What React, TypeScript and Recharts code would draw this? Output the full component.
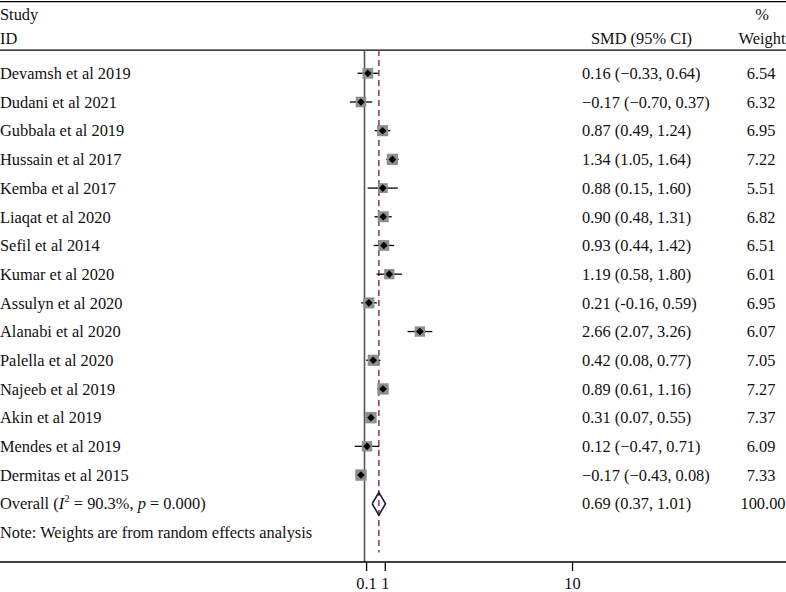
import React from 'react';
import { ScatterChart, Scatter, XAxis, YAxis, ErrorBar, ReferenceLine } from 'recharts';

const studies = [
  'Devamsh et al 2019', 'Dudani et al 2021', 'Gubbala et al 2019', 'Hussain et al 2017',
  'Kemba et al 2017', 'Liaqat et al 2020', 'Sefil et al 2014', 'Kumar et al 2020',
  'Assulyn et al 2020', 'Alanabi et al 2020', 'Palella et al 2020', 'Najeeb et al 2019',
  'Akin et al 2019', 'Mendes et al 2019', 'Dermitas et al 2015',
];
const smd = [0.16, -0.17, 0.87, 1.34, 0.88, 0.9, 0.93, 1.19, 0.21, 2.66, 0.42, 0.89, 0.31, 0.12, -0.17];
const ciLow = [-0.33, -0.7, 0.49, 1.05, 0.15, 0.48, 0.44, 0.58, -0.16, 2.07, 0.08, 0.61, 0.07, -0.47, -0.43];
const ciHigh = [0.64, 0.37, 1.24, 1.64, 1.6, 1.31, 1.42, 1.8, 0.59, 3.26, 0.77, 1.16, 0.55, 0.71, 0.08];
const weights = [6.54, 6.32, 6.95, 7.22, 5.51, 6.82, 6.51, 6.01, 6.95, 6.07, 7.05, 7.27, 7.37, 6.09, 7.33];
// the source table prints these with mixed minus signs
const ciText = [
  '0.16 (\u22120.33, 0.64)', '\u22120.17 (\u22120.70, 0.37)', '0.87 (0.49, 1.24)', '1.34 (1.05, 1.64)',
  '0.88 (0.15, 1.60)', '0.90 (0.48, 1.31)', '0.93 (0.44, 1.42)', '1.19 (0.58, 1.80)',
  '0.21 (-0.16, 0.59)', '2.66 (2.07, 3.26)', '0.42 (0.08, 0.77)', '0.89 (0.61, 1.16)',
  '0.31 (0.07, 0.55)', '0.12 (\u22120.47, 0.71)', '\u22120.17 (\u22120.43, 0.08)',
];
const overall = { est: 0.69, lo: 0.37, hi: 1.01, text: '0.69 (0.37, 1.01)', weight: '100.00' };
const xTicks = [0.1, 1, 10];

const overallRow = studies.length;
const noteRow = overallRow + 1;
const headRow1 = -2.07;
const headRow2 = -1.23;

const studyData = studies.map((name, i) => ({
  name,
  row: i,
  x: smd[i],
  err: [smd[i] - ciLow[i], ciHigh[i] - smd[i]],
  w: weights[i],
}));

const diamondData = [
  { x: overall.lo, row: overallRow },
  { x: overall.est, row: overallRow - 0.4 },
  { x: overall.hi, row: overallRow },
  { x: overall.est, row: overallRow + 0.4 },
  { x: overall.lo, row: overallRow },
];

const rowTicks = [headRow1, headRow2, ...studies.map((_, i) => i), overallRow, noteRow];

const FONT = '"Liberation Serif", "DejaVu Serif", serif';
const txt = { fontFamily: FONT, fontSize: 16.4, fill: '#111' };

const RowTick = (props: any) => {
  const { y, payload } = props;
  const v = payload.value;
  if (v === headRow1) {
    return (
      <g>
        <text x={0} y={y} dy="0.35em" textAnchor="start" {...txt}>Study</text>
        <text x={762} y={y} dy="0.35em" textAnchor="middle" {...txt}>%</text>
      </g>
    );
  }
  if (v === headRow2) {
    return (
      <g>
        <text x={0} y={y} dy="0.35em" textAnchor="start" {...txt}>ID</text>
        <text x={591} y={y} dy="0.35em" textAnchor="start" {...txt}>SMD (95% CI)</text>
        <text x={762} y={y} dy="0.35em" textAnchor="middle" {...txt}>Weight</text>
      </g>
    );
  }
  if (v === noteRow) {
    return (
      <text x={0} y={y} dy="0.35em" textAnchor="start" {...txt}>Note: Weights are from random effects analysis</text>
    );
  }
  if (v === overallRow) {
    return (
      <g>
        <text x={0} y={y + 5.7} textAnchor="start" {...txt}>
          Overall (<tspan fontStyle="italic">I</tspan>
          <tspan fontSize={11} dy={-7}>2</tspan>
          <tspan dy={7}> = 90.3%, </tspan>
          <tspan fontStyle="italic">p</tspan> = 0.000)
        </text>
        <text x={582} y={y} dy="0.35em" textAnchor="start" {...txt}>{overall.text}</text>
        <text x={763} y={y} dy="0.35em" textAnchor="middle" {...txt}>{overall.weight}</text>
      </g>
    );
  }
  return (
    <g>
      <text x={0} y={y} dy="0.35em" textAnchor="start" {...txt}>{studies[v]}</text>
      <text x={582} y={y} dy="0.35em" textAnchor="start" {...txt}>{ciText[v]}</text>
      <text x={761} y={y} dy="0.35em" textAnchor="middle" {...txt}>{weights[v].toFixed(2)}</text>
    </g>
  );
};

const XTick = (props: any) => {
  const { x, y, payload } = props;
  return (
    <text x={x} y={y} dy={13} textAnchor="middle" {...txt}>{payload.value}</text>
  );
};

const WeightBox = (props: any) => {
  const { cx, cy, payload } = props;
  const s = 4.2 * Math.sqrt(payload.w);
  return <rect x={cx - s / 2} y={cy - s / 2} width={s} height={s} fill="#8e8e8e" />;
};

const Dot = (props: any) => {
  const { cx, cy } = props;
  const r = 3.8;
  return <path d={`M${cx - r},${cy} L${cx},${cy - r} L${cx + r},${cy} L${cx},${cy + r} Z`} fill="#000" />;
};

const App: React.FC = () => {
  return (
    <div style={{ position: 'absolute', left: 0, top: 0, background: '#fff' }}>
      <ScatterChart
        width={786}
        height={592}
        margin={{ top: 0, right: 0, bottom: 0, left: -1 }}
        style={{ fontFamily: FONT }}
      >
        <XAxis
          type="number"
          dataKey="x"
          domain={[-17.52, 20.26]}
          allowDataOverflow
          ticks={xTicks}
          interval={0}
          height={30}
          axisLine={{ stroke: '#000', strokeWidth: 1.3 }}
          tickLine={{ stroke: '#000', strokeWidth: 1.3 }}
          tickSize={9}
          tickMargin={5}
          tick={<XTick />}
        />
        <YAxis
          type="number"
          dataKey="row"
          domain={[-2.554, 17.03]}
          allowDataOverflow
          reversed
          width={1}
          ticks={rowTicks}
          interval={0}
          axisLine={false}
          tickLine={false}
          tick={<RowTick />}
        />
        <ReferenceLine y={-2.5} stroke="#000" strokeWidth={1.3} />
        <ReferenceLine y={-0.81} stroke="#000" strokeWidth={1.3} />
        <ReferenceLine
          segment={[{ x: 0, y: -0.81 }, { x: 0, y: 17.03 }]}
          stroke="#555"
          strokeWidth={1.6}
        />
        <ReferenceLine
          segment={[{ x: overall.est, y: -0.81 }, { x: overall.est, y: 16.7 }]}
          stroke="#8a4a55"
          strokeWidth={1.6}
          strokeDasharray="6 4"
        />
        <Scatter data={studyData} shape={<WeightBox />} isAnimationActive={false} />
        <Scatter data={studyData} shape={<Dot />} isAnimationActive={false}>
          <ErrorBar dataKey="err" direction="x" width={0} stroke="#000" strokeWidth={1.3} />
        </Scatter>
        <Scatter
          data={diamondData}
          line={{ stroke: '#1c1c4c', strokeWidth: 1.6 }}
          lineType="joint"
          shape={() => <g />}
          isAnimationActive={false}
        />
      </ScatterChart>
    </div>
  );
};

export default App;
